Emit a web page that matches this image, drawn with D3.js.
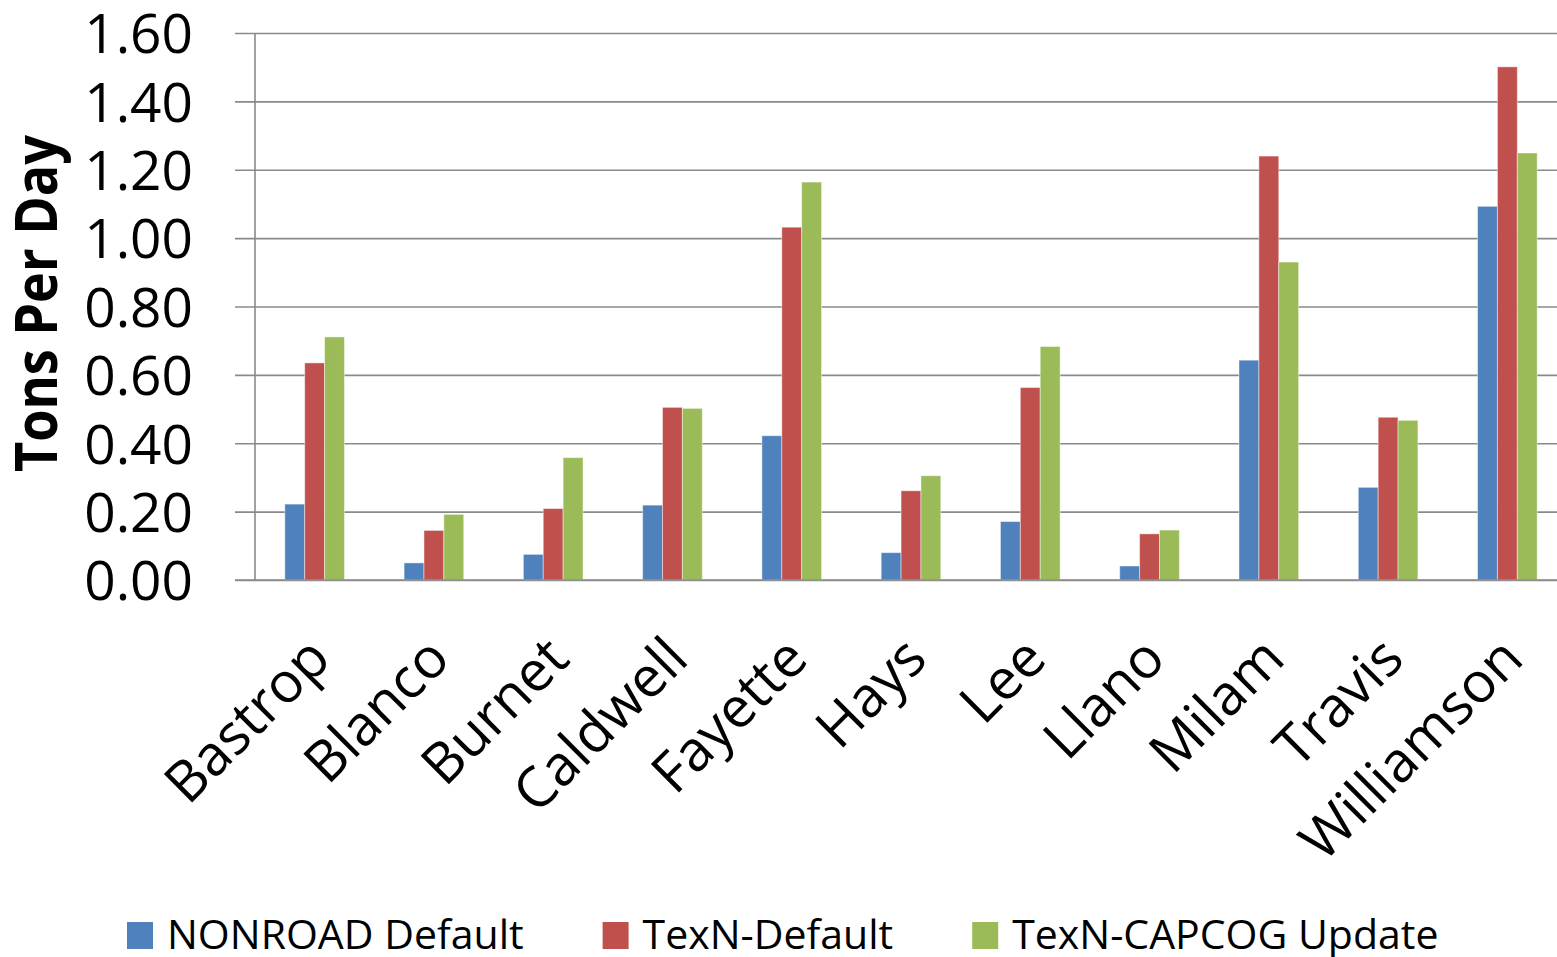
<!DOCTYPE html>
<html>
<head>
<meta charset="utf-8">
<script src="https://cdn.jsdelivr.net/npm/d3@7"></script>
<style>
  body { margin: 0; background: #fff; }
  text { font-family: "Open Sans", "Noto Sans", sans-serif; fill: #000; }
</style>
</head>
<body>
<script>
// data
var counties = ["Bastrop", "Blanco", "Burnet", "Caldwell", "Fayette", "Hays",
                "Lee", "Llano", "Milam", "Travis", "Williamson"];
var seriesNames = ["NONROAD Default", "TexN-Default", "TexN-CAPCOG Update"];
var nonroadDefault = [0.222, 0.050, 0.075, 0.219, 0.422, 0.080, 0.171, 0.041, 0.643, 0.271, 1.093];
var texnDefault    = [0.635, 0.145, 0.209, 0.505, 1.032, 0.261, 0.563, 0.135, 1.240, 0.476, 1.501];
var texnCapcog     = [0.711, 0.192, 0.358, 0.502, 1.164, 0.305, 0.683, 0.146, 0.930, 0.467, 1.249];
var yTicks = [0, 0.2, 0.4, 0.6, 0.8, 1.0, 1.2, 1.4, 1.6];
var colors = ["#4F81BD", "#C0504D", "#9BBB59"];

var W = 1557, H = 957;
// plot area (right edge runs a bit past the picture, like the original)
var plotLeft = 255, plotRight = 1567, plotTop = 33, plotBottom = 580;

var svg = d3.select("body").append("svg")
    .attr("width", W)
    .attr("height", H);

var values = [nonroadDefault, texnDefault, texnCapcog];
var rows = counties.map(function(c, i) {
  return { county: c, vals: values.map(function(v, s) { return { s: s, v: v[i] }; }) };
});

// scales
var y = d3.scaleLinear().domain([0, 1.6]).range([plotBottom, plotTop]);
var x0 = d3.scaleBand().domain(counties).range([plotLeft, plotRight])
    .paddingInner(0.5).paddingOuter(0.25);
var x1 = d3.scaleBand().domain([0, 1, 2]).range([0, x0.bandwidth()]);

// gridlines (with the little outside ticks)
svg.append("g")
    .attr("transform", "translate(" + plotRight + ",0)")
    .call(d3.axisLeft(y).tickValues(yTicks).tickSize(plotRight - 235).tickFormat(""))
    .call(function(g) {
      g.select(".domain").remove();
      g.selectAll("line").attr("stroke", "#8a8a8a").attr("stroke-width", 1.6);
    });

// y axis line
svg.append("line")
    .attr("x1", plotLeft).attr("x2", plotLeft)
    .attr("y1", y(1.6)).attr("y2", y(0))
    .attr("stroke", "#8a8a8a").attr("stroke-width", 1.6);

// bars
var groups = svg.selectAll("g.county")
    .data(rows)
  .enter().append("g")
    .attr("class", "county")
    .attr("transform", function(d) { return "translate(" + x0(d.county) + ",0)"; });

groups.selectAll("rect")
    .data(function(d) { return d.vals; })
  .enter().append("rect")
    .attr("x", function(d) { return x1(d.s); })
    .attr("width", x1.bandwidth())
    .attr("y", function(d) { return y(d.v); })
    .attr("height", function(d) { return y(0) - y(d.v); })
    .attr("fill", function(d) { return colors[d.s]; })
    .attr("stroke", "#ffffff")
    .attr("stroke-opacity", 0.45)
    .attr("stroke-width", 1);

// x axis line
svg.append("line")
    .attr("x1", 235).attr("x2", plotRight)
    .attr("y1", y(0)).attr("y2", y(0))
    .attr("stroke", "#8a8a8a").attr("stroke-width", 1.6);

// y tick labels
svg.append("g")
    .attr("transform", "translate(193,0)")
    .call(d3.axisLeft(y).tickValues(yTicks).tickSize(0).tickPadding(0).tickFormat(d3.format(".2f")))
    .call(function(g) {
      g.select(".domain").remove();
      g.selectAll("text")
        .style("font-family", "'Open Sans', sans-serif")
        .style("font-size", "55px")
        .attr("fill", "#000")
        .attr("dy", "0.36em");
    });

// y axis title
svg.append("text")
    .attr("transform", "translate(57," + ((135 + 472) / 2) + ") rotate(-90)")
    .attr("text-anchor", "middle")
    .attr("textLength", 337)
    .attr("lengthAdjust", "spacingAndGlyphs")
    .style("font-size", "59px")
    .style("font-weight", "bold")
    .text("Tons Per Day");

// category labels, rotated
svg.append("g").selectAll("text")
    .data(counties)
  .enter().append("text")
    .attr("transform", function(d) {
      return "translate(" + (x0(d) + x0.bandwidth() / 2 - 3) + ",640) rotate(-45)";
    })
    .attr("text-anchor", "end")
    .attr("dy", "0.54em")
    .style("font-size", "56px")
    .text(function(d) { return d; });

// legend
var legend = svg.append("g").attr("class", "legend");
var lx = 127;
seriesNames.forEach(function(name, i) {
  legend.append("rect")
      .attr("x", lx).attr("y", 922)
      .attr("width", 26).attr("height", 27)
      .attr("fill", colors[i]);
  var t = legend.append("text")
      .attr("x", lx + 40).attr("y", 949)
      .style("font-size", "41px")
      .text(name);
  lx = lx + 40 + t.node().getComputedTextLength() + 79;
});
</script>
</body>
</html>
